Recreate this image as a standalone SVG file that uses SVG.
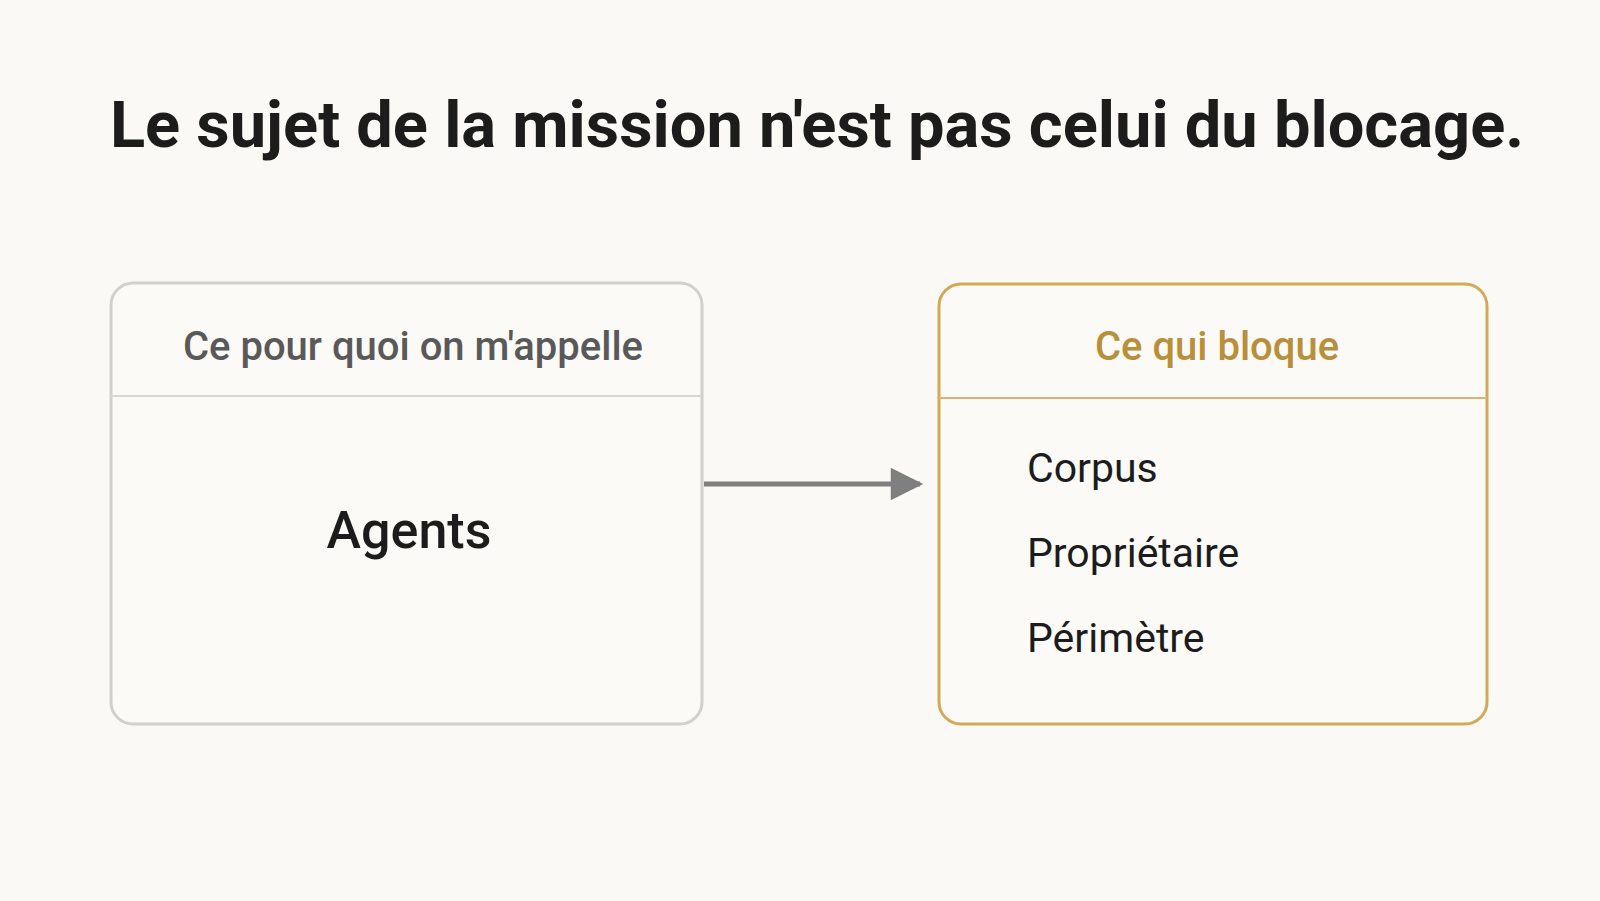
<svg xmlns="http://www.w3.org/2000/svg" width="1600" height="901" viewBox="0 0 1600 901">
<defs>
<style>
.t{font-family:Roboto,"Liberation Sans",sans-serif}
.title{font-size:65px;font-weight:700;fill:#1c1c1c}
.hdr{font-size:40px;font-weight:500}
.item{font-size:41px;fill:#1c1c1c}
</style>
<marker id="ah" viewBox="0 0 10 10" refX="9" refY="5" markerWidth="7" markerHeight="6.5" markerUnits="strokeWidth" orient="auto"><path d="M0,0 L10,5 L0,10 Z" fill="#7f7f7f"/></marker>
</defs>
<rect width="1600" height="901" fill="#faf9f5"/>
<text class="t title" x="817" y="147" text-anchor="middle">Le sujet de la mission n'est pas celui du blocage.</text>
<g id="node-left">
<rect x="111" y="283" width="591" height="441" rx="22" fill="#fbfaf7" stroke="#d0d0cd" stroke-width="3"/>
<line x1="111" y1="396" x2="702" y2="396" stroke="#d8d7d3" stroke-width="2"/>
<text class="t hdr" x="413" y="360" text-anchor="middle" fill="#595959">Ce pour quoi on m'appelle</text>
<text class="t" x="409" y="548" text-anchor="middle" font-size="52" font-weight="500" fill="#1c1c1c">Agents</text>
</g>
<g id="node-right">
<rect x="939" y="284" width="548" height="440" rx="22" fill="#fbfaf7" stroke="#d4a955" stroke-width="3"/>
<line x1="939" y1="398" x2="1487" y2="398" stroke="#d9b572" stroke-width="2"/>
<text class="t hdr" x="1217" y="360" text-anchor="middle" fill="#b8903a">Ce qui bloque</text>
<text class="t item" x="1027" y="482">Corpus</text>
<text class="t item" x="1027" y="567">Propriétaire</text>
<text class="t item" x="1027" y="652">Périmètre</text>
</g>
<g id="connectors">
<line x1="704" y1="484" x2="920" y2="484" stroke="#7f7f7f" stroke-width="5" marker-end="url(#ah)"/>
</g>
</svg>
